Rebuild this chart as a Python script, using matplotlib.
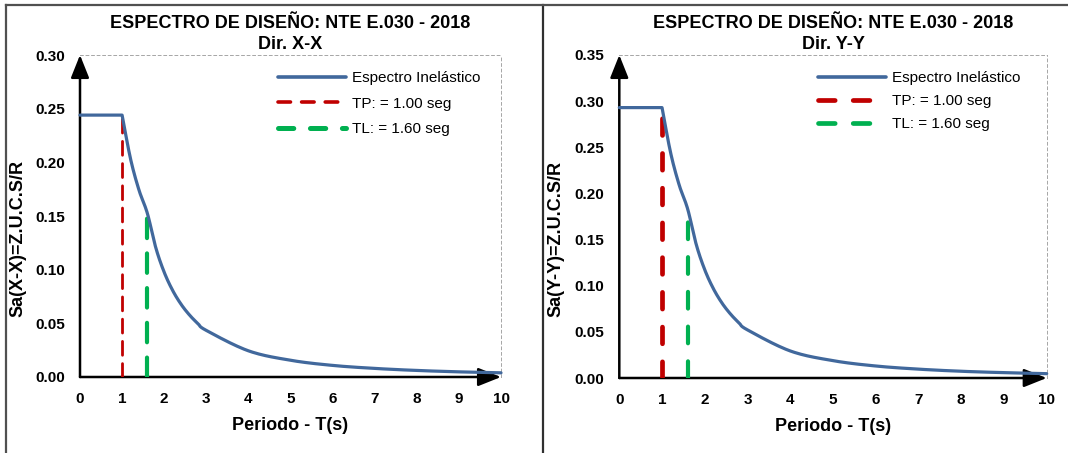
import matplotlib
matplotlib.use('Agg')
import matplotlib.pyplot as plt
import numpy as np
from matplotlib.lines import Line2D

plt.rcParams.update({
    'font.family': ['Liberation Sans', 'DejaVu Sans'],
    'lines.scale_dashes': False,
})

# ── Data ────────────────────────────────────────────────────────────
periods = [0.0, 1.0, 1.2, 1.4, 1.6, 1.8, 2.0, 2.2, 2.4, 2.6, 2.8, 3.0,
           4.0, 5.0, 6.0, 7.0, 8.0, 9.0, 10.0]
sa_x = [0.244, 0.244, 0.2033, 0.1743, 0.1525, 0.1205, 0.0976, 0.0807, 0.0678,
        0.0578, 0.0498, 0.0434, 0.0244, 0.0156, 0.0108, 0.0080, 0.0061,
        0.0048, 0.0039]
sa_y = [0.293, 0.293, 0.2442, 0.2093, 0.1831, 0.1447, 0.1172, 0.0969, 0.0814,
        0.0694, 0.0598, 0.0521, 0.0293, 0.0188, 0.0130, 0.0096, 0.0073,
        0.0058, 0.0047]
tp = 1.00
tl = 1.60
tp_top = [0.244, 0.293]
tl_top = [0.1525, 0.1831]
y_max = [0.30, 0.35]
directions = ['X-X', 'Y-Y']

BLUE = '#41689C'
RED = '#C00000'
GREEN = '#00B050'

W, H = 1068, 453
fig = plt.figure(figsize=(W / 100, H / 100), dpi=100)

# panel frames (Excel chart borders)
fig.add_artist(Line2D([6 / W, 6 / W], [0, 1 - 5 / H], color='#505050', lw=1.6,
                      transform=fig.transFigure))
fig.add_artist(Line2D([542.5 / W, 542.5 / W], [0, 1 - 5 / H], color='#303030', lw=1.6,
                      transform=fig.transFigure))
fig.add_artist(Line2D([6 / W, 1], [1 - 5 / H, 1 - 5 / H], color='#505050', lw=1.6,
                      transform=fig.transFigure))


def smooth(x, y, n=20):
    # Catmull-Rom smoothing similar to Excel's smoothed line
    x = np.asarray(x, float)
    y = np.asarray(y, float)
    px = np.concatenate([[2 * x[0] - x[1]], x, [2 * x[-1] - x[-2]]])
    py = np.concatenate([[2 * y[0] - y[1]], y, [2 * y[-1] - y[-2]]])
    ox, oy = [], []
    for i in range(1, len(px) - 2):
        t = np.linspace(0, 1, n, endpoint=False)
        for arr, out in ((px, ox), (py, oy)):
            p0, p1, p2, p3 = arr[i - 1], arr[i], arr[i + 1], arr[i + 2]
            out.extend(0.5 * ((2 * p1) + (-p0 + p2) * t
                              + (2 * p0 - 5 * p1 + 4 * p2 - p3) * t ** 2
                              + (-p0 + 3 * p1 - 3 * p2 + p3) * t ** 3))
    ox.append(x[-1])
    oy.append(y[-1])
    return np.array(ox), np.array(oy)


panels = [
    dict(pos=[80 / W, 76 / H, 421 / W, 322 / H], sa=sa_x,
         red=dict(lw=2.0, dashes=(10, 6)), green=dict(lw=3.0, dashes=(14, 11)),
         red_leg=dict(lw=2.6, dashes=(9, 8)), green_leg=dict(lw=3.6, dashes=(11, 12)),
         leg_x=0.47, leg_y=0.95, spacing=0.76),
    dict(pos=[619.3 / W, 75 / H, 427.4 / W, 323 / H], sa=sa_y,
         red=dict(lw=3.4, dashes=(12, 13)), green=dict(lw=3.0, dashes=(12, 13)),
         red_leg=dict(lw=3.4, dashes=(12, 13)), green_leg=dict(lw=3.4, dashes=(12, 13)),
         leg_x=0.465, leg_y=0.95, spacing=0.6),
]

for i, p in enumerate(panels):
    ax = fig.add_axes(p['pos'])
    ymax = y_max[i]

    # plateau, then smoothed descending branch
    sx, sy = smooth(periods[1:], p['sa'][1:])
    cx = np.concatenate([[periods[0]], sx])
    cy = np.concatenate([[p['sa'][0]], sy])
    ax.plot(cx, cy, color=BLUE, lw=2.3, solid_capstyle='round', zorder=4,
            clip_on=False)

    ax.plot([tp, tp], [0, tp_top[i]], color=RED, dash_capstyle='round',
            zorder=3, **p['red'])
    ax.plot([tl, tl], [0, tl_top[i]], color=GREEN, dash_capstyle='round',
            zorder=3, **p['green'])

    ax.set_xlim(0, 10)
    ax.set_ylim(0, ymax)
    ax.set_xticks(range(0, 11))
    yt = np.arange(0, ymax + 0.001, 0.05)
    ax.set_yticks(yt)
    ax.set_yticklabels([f'{v:.2f}' for v in yt])
    ax.tick_params(length=0, labelsize=11, pad=11)
    for lab in ax.get_xticklabels() + ax.get_yticklabels():
        lab.set_fontweight('bold')

    for s in ('left', 'bottom'):
        ax.spines[s].set_visible(False)
    for s in ('top', 'right'):
        ax.spines[s].set_linestyle((0, (2, 2)))
        ax.spines[s].set_color('#A6A6A6')
        ax.spines[s].set_linewidth(0.7)

    # axis arrows
    arrow = dict(arrowstyle='-|>,head_length=0.7,head_width=0.28', color='black',
                 lw=1.8, shrinkA=0, shrinkB=0, mutation_scale=20)
    ax.annotate('', xy=(0, ymax), xytext=(0, 0), arrowprops=arrow,
                annotation_clip=False, zorder=2)
    ax.annotate('', xy=(10, 0), xytext=(0, 0), arrowprops=arrow,
                annotation_clip=False, zorder=2)

    ax.text(0.5, 1.005, 'ESPECTRO DE DISEÑO: NTE E.030 - 2018\nDir. ' + directions[i],
            transform=ax.transAxes, ha='center', va='bottom', fontsize=13,
            fontweight='bold', linespacing=1.33)
    ax.set_xlabel('Periodo - T(s)', fontsize=13, fontweight='bold', labelpad=8)
    ax.set_ylabel(f'Sa({directions[i]})=Z.U.C.S/R', fontsize=13, fontweight='bold')
    ax.yaxis.set_label_coords(-0.128, 0.43)

    handles = [
        Line2D([], [], color=BLUE, lw=2.6, solid_capstyle='round'),
        Line2D([], [], color=RED, dash_capstyle='round', **p['red_leg']),
        Line2D([], [], color=GREEN, dash_capstyle='round', **p['green_leg']),
    ]
    labels = ['Espectro Inelástico', f'TP: = {tp:.2f} seg', f'TL: = {tl:.2f} seg']
    ax.legend(handles, labels, loc='upper left', bbox_to_anchor=(p['leg_x'], p['leg_y']),
              frameon=False, fontsize=11, handlelength=4.45, handletextpad=0.4,
              labelspacing=p['spacing'], borderpad=0, borderaxespad=0)

fig.savefig('out.png', dpi=100, facecolor='white')
